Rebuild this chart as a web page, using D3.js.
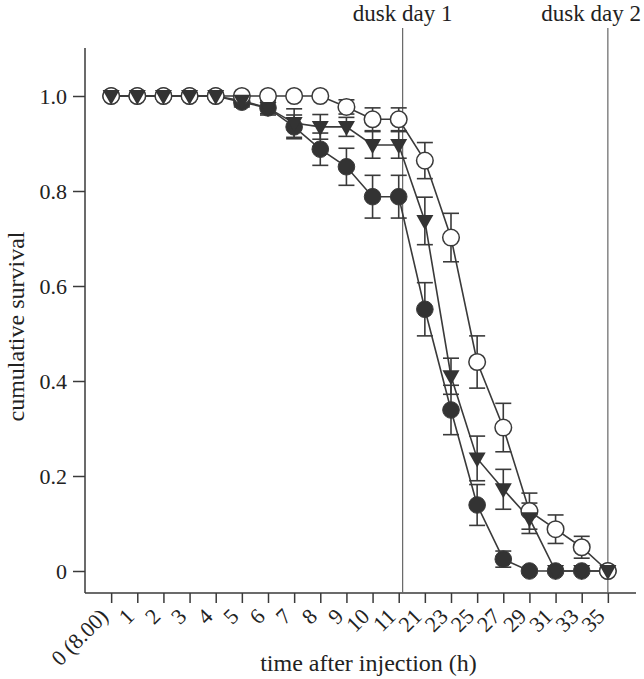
<!DOCTYPE html>
<html>
<head>
<meta charset="utf-8">
<script src="https://cdn.jsdelivr.net/npm/d3@7"></script>
<style>
  html, body { margin: 0; padding: 0; background: #fff; }
  svg { display: block; }
  text { font-family: "Liberation Serif", "Times New Roman", serif; fill: #222; }
</style>
</head>
<body>
<svg id="chart" width="644" height="679"></svg>
<script>
// ---- data ----
const categories = ["0 (8.00)", "1", "2", "3", "4", "5", "6", "7", "8", "9", "10", "11",
                    "21", "23", "25", "27", "29", "31", "33", "35"];
const yTicks = [0, 0.2, 0.4, 0.6, 0.8, 1.0];
const yTickLabels = ["0", "0.2", "0.4", "0.6", "0.8", "1.0"];

const openValues   = [1, 1, 1, 1, 1, 1, 1, 1, 1, 0.977, 0.951, 0.951, 0.864, 0.702, 0.44, 0.302, 0.126, 0.088, 0.05, 0];
const openErrors   = [0, 0, 0, 0, 0, 0, 0, 0, 0, 0.015, 0.024, 0.024, 0.038, 0.051, 0.055, 0.051, 0.038, 0.03, 0.023, 0];

const triValues    = [1, 1, 1, 1, 1, 0.99, 0.975, 0.943, 0.935, 0.935, 0.897, 0.897, 0.737, 0.41, 0.237, 0.172, 0.111, 0, 0, 0];
const triErrors    = [0, 0, 0, 0, 0, 0.01, 0.012, 0.03, 0.026, 0.02, 0.028, 0.028, 0.05, 0.038, 0.047, 0.042, 0.032, 0, 0, 0];

const filledValues = [1, 1, 1, 1, 1, 0.987, 0.975, 0.935, 0.888, 0.851, 0.788, 0.788, 0.551, 0.339, 0.139, 0.025, 0, 0, 0, 0];
const filledErrors = [0, 0, 0, 0, 0, 0.01, 0.015, 0.025, 0.034, 0.039, 0.045, 0.045, 0.056, 0.052, 0.043, 0.017, 0, 0, 0, 0];

const duskLabels = ["dusk day 1", "dusk day 2"];
const duskPositions = [11.15, 19]; // in category-index units

// ---- layout ----
const svg = d3.select("#chart");
const mLeft = 85, mRight = 634, mTop = 48, mBottom = 593;
const ink = "#3a3a3a";

const x = d3.scaleLinear().domain([-1, categories.length]).range([mLeft, mRight]);
const y = d3.scaleLinear().domain([0, 1]).range([571, 96]);

// axes
const yAxis = d3.axisLeft(y).tickValues(yTicks).tickFormat((d, i) => yTickLabels[i]).tickSize(12).tickPadding(6);
const yG = svg.append("g").attr("transform", `translate(${mLeft},0)`).call(yAxis);
yG.select(".domain").remove();
yG.append("line").attr("x1", 0).attr("x2", 0).attr("y1", mTop).attr("y2", mBottom)
  .attr("stroke", ink).attr("stroke-width", 1.5);
yG.selectAll(".tick line").attr("stroke", ink).attr("stroke-width", 1.5);
yG.selectAll(".tick text").style("font-size", "22px").style("font-family", "Liberation Serif").attr("fill", "#222");

const xAxis = d3.axisBottom(x).tickValues(d3.range(categories.length))
  .tickFormat(i => categories[i]).tickSize(10).tickPadding(4);
const xG = svg.append("g").attr("transform", `translate(0,${mBottom})`).call(xAxis);
xG.select(".domain").remove();
xG.append("line").attr("x1", mLeft).attr("x2", mRight + 2).attr("y1", 0).attr("y2", 0)
  .attr("stroke", ink).attr("stroke-width", 1.5);
xG.selectAll(".tick line").attr("stroke", ink).attr("stroke-width", 1.5);
xG.selectAll(".tick text")
  .style("font-size", "22px").style("font-family", "Liberation Serif").attr("fill", "#222")
  .attr("text-anchor", "end")
  .attr("x", 0).attr("y", 0)
  .attr("dx", "0em").attr("dy", "0.5em")
  .attr("transform", "translate(-10,17) rotate(-45)");

// axis titles
svg.append("text").attr("x", x(9.5) + 9).attr("y", 671).attr("text-anchor", "middle")
  .style("font-size", "24px").text("time after injection (h)");
svg.append("text").attr("transform", `translate(24,${(mTop + mBottom) / 2 + 6}) rotate(-90)`)
  .attr("text-anchor", "middle").style("font-size", "24px").text("cumulative survival");

// dusk lines
duskPositions.forEach((p, i) => {
  svg.append("line").attr("x1", x(p)).attr("x2", x(p)).attr("y1", 28).attr("y2", mBottom)
    .attr("stroke", "#666").attr("stroke-width", 1.2);
  const t = svg.append("text").attr("y", 21).style("font-size", "23px").text(duskLabels[i]);
  if (i === duskPositions.length - 1) t.attr("x", 641).attr("text-anchor", "end");
  else t.attr("x", x(p)).attr("text-anchor", "middle");
});

// series
const series = [
  { values: filledValues, errors: filledErrors, kind: "filled" },
  { values: openValues, errors: openErrors, kind: "open" },
  { values: triValues, errors: triErrors, kind: "tri" }
];

const line = d3.line().x((d, i) => x(i)).y(d => y(d));
series.forEach(s => {
  svg.append("path").attr("d", line(s.values)).attr("fill", "none")
    .attr("stroke", ink).attr("stroke-width", 1.6);
});

// error bars
const capW = 8;
series.forEach(s => {
  const g = svg.append("g").attr("stroke", ink).attr("stroke-width", 1.6);
  s.values.forEach((v, i) => {
    const e = s.errors[i];
    if (!e) return;
    const cx = x(i), y1 = y(v + e), y2 = y(v - e);
    g.append("line").attr("x1", cx).attr("x2", cx).attr("y1", y1).attr("y2", y2);
    g.append("line").attr("x1", cx - capW).attr("x2", cx + capW).attr("y1", y1).attr("y2", y1);
    g.append("line").attr("x1", cx - capW).attr("x2", cx + capW).attr("y1", y2).attr("y2", y2);
  });
});

// markers
const triPath = "M-8.5,-6L8.5,-6L0,9Z";
series.forEach(s => {
  const g = svg.append("g");
  s.values.forEach((v, i) => {
    if (s.kind === "filled") {
      g.append("circle").attr("cx", x(i)).attr("cy", y(v)).attr("r", 8.3).attr("fill", "#333").attr("stroke", ink).attr("stroke-width", 1);
    } else if (s.kind === "open") {
      g.append("circle").attr("cx", x(i)).attr("cy", y(v)).attr("r", 8.3).attr("fill", "#fff").attr("stroke", ink).attr("stroke-width", 1.5);
    } else {
      g.append("path").attr("d", triPath).attr("transform", `translate(${x(i)},${y(v)})`).attr("fill", "#333");
    }
  });
});
</script>
</body>
</html>
